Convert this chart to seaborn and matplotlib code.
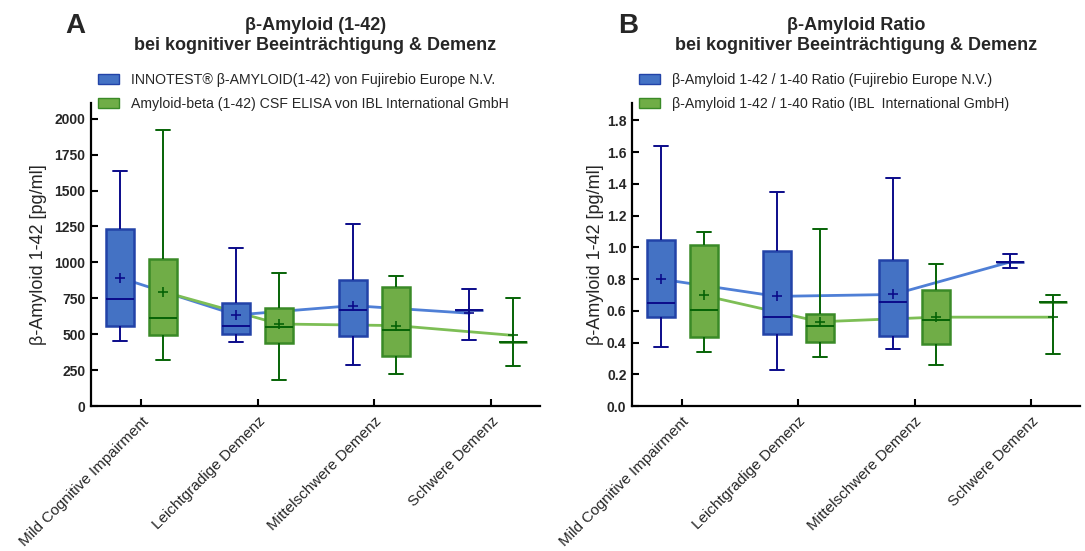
import numpy as np
import pandas as pd
import matplotlib
matplotlib.use("Agg")
import matplotlib.pyplot as plt
from matplotlib.patches import Patch
import seaborn as sns

# ---------------------------------------------------------------------------
# Data
# ---------------------------------------------------------------------------
gruppen = ["Mild Cognitive Impairment", "Leichtgradige Demenz",
           "Mittelschwere Demenz", "Schwere Demenz"]

# Panel A: beta-Amyloid (1-42) [pg/ml], five-number summary + mean per group
a_fuji_min = [451, 444, 283, 458]
a_fuji_q1 = [555, 499, 485, 669]
a_fuji_median = [743, 560, 667, 669]
a_fuji_q3 = [1236, 715, 876, 669]
a_fuji_max = [1635, 1099, 1266, 813]
a_fuji_mean = [894, 634, 699, 646]

a_ibl_min = [318, 179, 221, 276]
a_ibl_q1 = [495, 437, 346, 446]
a_ibl_median = [611, 548, 527, 446]
a_ibl_q3 = [1027, 685, 832, 446]
a_ibl_max = [1921, 925, 904, 750]
a_ibl_mean = [797, 571, 560, 492]

# Panel B: beta-Amyloid 1-42 / 1-40 ratio
b_fuji_min = [0.375, 0.225, 0.358, 0.869]
b_fuji_q1 = [0.560, 0.453, 0.440, 0.907]
b_fuji_median = [0.648, 0.564, 0.655, 0.907]
b_fuji_q3 = [1.044, 0.975, 0.918, 0.907]
b_fuji_max = [1.638, 1.349, 1.436, 0.958]
b_fuji_mean = [0.800, 0.691, 0.703, 0.907]

b_ibl_min = [0.339, 0.307, 0.257, 0.326]
b_ibl_q1 = [0.438, 0.404, 0.389, 0.657]
b_ibl_median = [0.604, 0.507, 0.541, 0.657]
b_ibl_q3 = [1.013, 0.577, 0.733, 0.657]
b_ibl_max = [1.095, 1.116, 0.895, 0.697]
b_ibl_mean = [0.697, 0.531, 0.560, 0.560]

a_series = ["INNOTEST\u00ae \u03b2-AMYLOID(1-42) von Fujirebio Europe N.V.",
            "Amyloid-beta (1-42) CSF ELISA von IBL International GmbH"]
b_series = ["\u03b2-Amyloid 1-42 / 1-40 Ratio (Fujirebio Europe N.V.)",
            "\u03b2-Amyloid 1-42 / 1-40 Ratio (IBL  International GmbH)"]

a_yticks = [0, 250, 500, 750, 1000, 1250, 1500, 1750, 2000]
b_yticks = [0.0, 0.2, 0.4, 0.6, 0.8, 1.0, 1.2, 1.4, 1.6, 1.8]

# ---------------------------------------------------------------------------
# Style
# ---------------------------------------------------------------------------
sns.set_style("ticks")
plt.rcParams["font.family"] = ["Liberation Sans", "DejaVu Sans"]

FILL = ["#4472C4", "#70AD47"]
EDGE = ["#2243A8", "#3A8A27"]
WHISK = ["#0B0B8A", "#066306"]
LINE = ["#4F7FD6", "#7DBE55"]

W, H = 1085, 551
fig = plt.figure(figsize=(W / 100, H / 100), dpi=100)


def fx(px):
    return px / W


def fy(py):
    return 1 - py / H


ax_a = fig.add_axes([fx(91), fy(406), fx(540) - fx(91), fy(103) - fy(406)])
ax_b = fig.add_axes([fx(632), fy(406), fx(1080) - fx(632), fy(103) - fy(406)])


def long_frame(series, stats):
    rows = []
    for name, cols in zip(series, stats):
        for g, vals in zip(gruppen, zip(*cols)):
            for v in vals:
                rows.append({"Gruppe": g, "Test": name, "Wert": v})
    return pd.DataFrame(rows)


def draw_panel(ax, series, stats, means, ylim, yticks, yfmt, ylabel_x):
    df = long_frame(series, stats)
    fill_pal = dict(zip(series, FILL))
    for i, name in enumerate(series):
        sns.boxplot(data=df[df["Test"] == name], x="Gruppe", y="Wert",
                    hue="Test", order=gruppen, hue_order=series,
                    palette=fill_pal, dodge=True, whis=(0, 100),
                    width=0.74, gap=0.35, fliersize=0, linewidth=1.4,
                    linecolor=WHISK[i], saturation=1,
                    boxprops=dict(edgecolor=EDGE[i], linewidth=1.8),
                    legend=False, ax=ax, zorder=3)

    mdf = pd.DataFrame({
        "Gruppe": gruppen * len(series),
        "Test": np.repeat(series, len(gruppen)),
        "Mittelwert": np.concatenate(means),
    })
    sns.pointplot(data=mdf, x="Gruppe", y="Mittelwert", hue="Test",
                  order=gruppen, hue_order=series,
                  palette=dict(zip(series, LINE)), dodge=0.37,
                  markers="", errorbar=None, linewidth=2.0,
                  legend=False, ax=ax, zorder=1)
    sns.pointplot(data=mdf, x="Gruppe", y="Mittelwert", hue="Test",
                  order=gruppen, hue_order=series,
                  palette=dict(zip(series, WHISK)), dodge=0.37,
                  markers="+", linestyles="none", errorbar=None,
                  markersize=6.5, markeredgewidth=1.2,
                  legend=False, ax=ax, zorder=6)

    ax.set_xlim(-0.43, 3.42)
    ax.set_ylim(*ylim)
    ax.set_yticks(yticks)
    ax.set_yticklabels([yfmt(v) for v in yticks], fontweight="bold",
                       fontsize=10)
    ax.set_xticks(range(len(gruppen)))
    ax.set_xticklabels(gruppen, rotation=45, ha="right", va="top",
                       rotation_mode="anchor", fontsize=11)
    ax.set_xlabel("")
    ax.set_ylabel("\u03b2-Amyloid 1-42 [pg/ml]", fontsize=13)
    ax.yaxis.set_label_coords(ylabel_x, 0.5)
    sns.despine(ax=ax)
    for side in ("left", "bottom"):
        ax.spines[side].set_linewidth(1.6)
        ax.spines[side].set_color("black")
    ax.tick_params(axis="both", direction="in", length=5, width=1.5,
                   color="black", pad=4)
    ax.tick_params(axis="x", pad=6)


draw_panel(ax_a, a_series,
           [(a_fuji_min, a_fuji_q1, a_fuji_median, a_fuji_q3, a_fuji_max),
            (a_ibl_min, a_ibl_q1, a_ibl_median, a_ibl_q3, a_ibl_max)],
           [a_fuji_mean, a_ibl_mean], (0, 2110), a_yticks,
           lambda v: f"{v:d}", -0.098)
draw_panel(ax_b, b_series,
           [(b_fuji_min, b_fuji_q1, b_fuji_median, b_fuji_q3, b_fuji_max),
            (b_ibl_min, b_ibl_q1, b_ibl_median, b_ibl_q3, b_ibl_max)],
           [b_fuji_mean, b_ibl_mean], (0, 1.91), b_yticks,
           lambda v: f"{v:.1f}", -0.063)

# Titles, panel letters and legends
for ax, letter, head, lx, lgx, series in (
        (ax_a, "A", "\u03b2-Amyloid (1-42)", 75, 98, a_series),
        (ax_b, "B", "\u03b2-Amyloid Ratio", 628, 639, b_series)):
    pos = ax.get_position()
    cx = (pos.x0 + pos.x1) / 2
    fig.text(cx, fy(26), head, ha="center", va="center",
             fontsize=13, fontweight="bold")
    fig.text(cx, fy(46), "bei kognitiver Beeintr\u00e4chtigung & Demenz",
             ha="center", va="center", fontsize=13, fontweight="bold")
    fig.text(fx(lx), fy(26), letter, ha="center", va="center",
             fontsize=20, fontweight="bold")
    handles = [Patch(facecolor=FILL[i], edgecolor=EDGE[i], linewidth=1.0)
               for i in range(2)]
    fig.legend(handles, series, loc="upper left",
               bbox_to_anchor=(fx(lgx), fy(73)), frameon=False,
               fontsize=10.2, handlelength=1.45, handleheight=0.8,
               handletextpad=0.85, labelspacing=0.7, borderpad=0,
               borderaxespad=0)

fig.savefig("out.png", dpi=100)
